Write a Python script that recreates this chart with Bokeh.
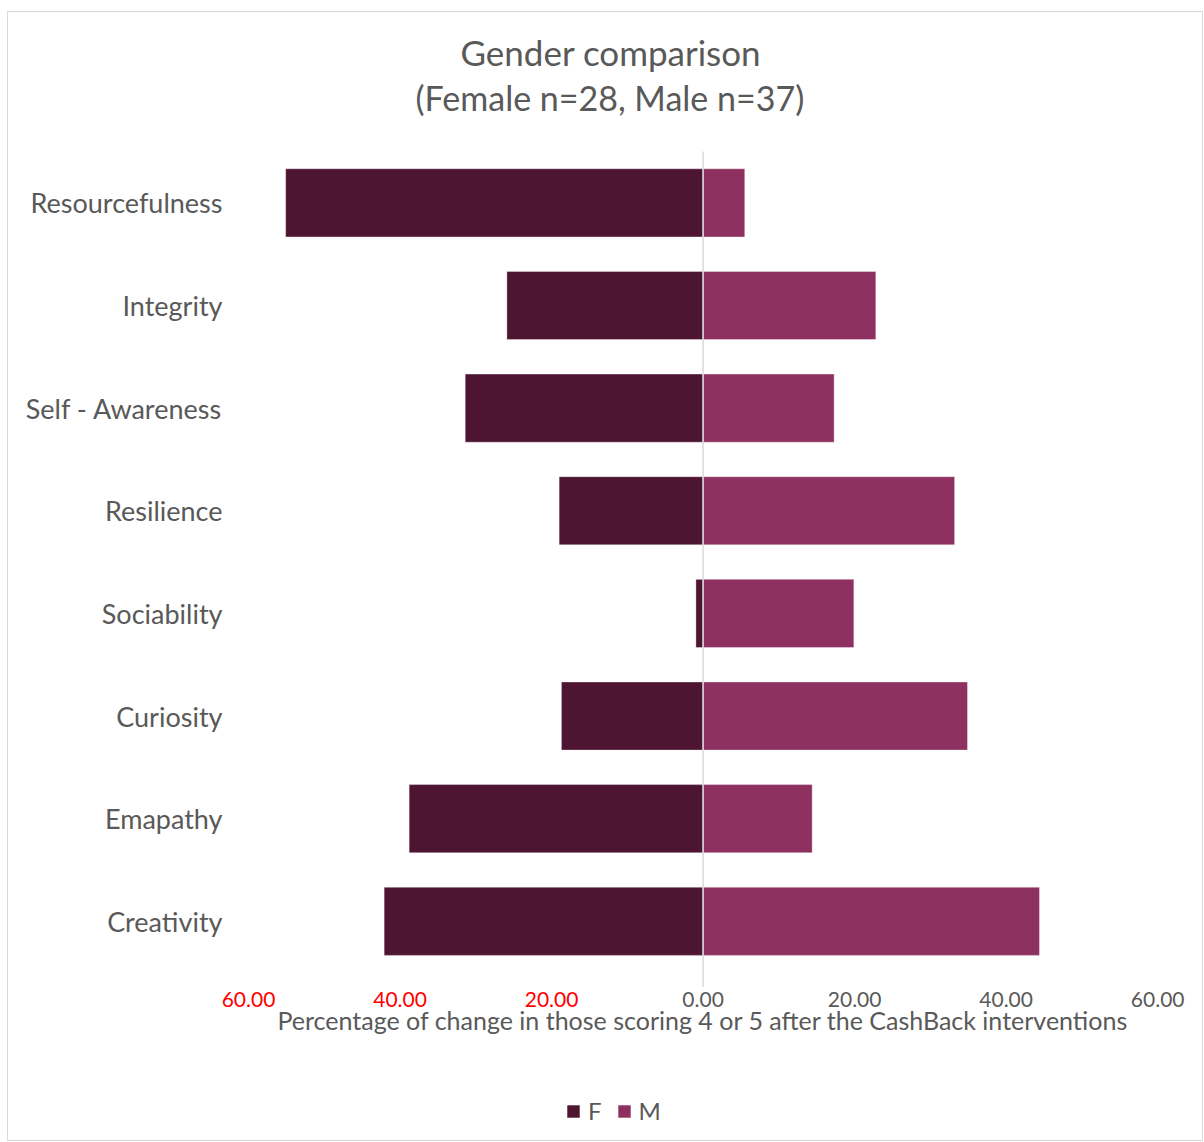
from bokeh.plotting import figure
from bokeh.models import Range1d, ColumnDataSource, Legend, LegendItem, Title, FixedTicker
from bokeh.core.properties import value
from bokeh.embed import file_html
from bokeh.resources import INLINE

categories = ["Resourcefulness", "Integrity", "Self - Awareness", "Resilience",
              "Sociability", "Curiosity", "Emapathy", "Creativity"]
female = [-55.1, -25.9, -31.4, -19.0, -0.95, -18.7, -38.8, -42.1]
male = [5.5, 22.8, 17.3, 33.2, 19.9, 34.9, 14.4, 44.4]
tick_values = [-60, -40, -20, 0, 20, 40, 60]
tick_labels = ["60.00", "40.00", "20.00", "0.00", "20.00", "40.00", "60.00"]
x_title = "Percentage of change in those scoring 4 or 5 after the CashBack interventions"
title_lines = ["Gender comparison", "(Female n=28, Male n=37)"]

FONT = "Lato"
GREY = "#595959"
F_COLOR = "#4e1533"
M_COLOR = "#8e3160"

# category slots: first category on top
ypos = [-i for i in range(len(categories))]
src = ColumnDataSource(dict(y=ypos, f=female, m=male, zero=[0] * len(categories)))

p = figure(width=1196, height=1130, output_backend="svg", toolbar_location=None, title=None,
           x_range=Range1d(-63.7, 64.6), y_range=Range1d(-9.155, 0.822), x_axis_location=None,
           min_border_left=212, min_border_right=12, min_border_top=106, min_border_bottom=0)

rf = p.hbar(y="y", left="f", right="zero", height=0.664, source=src,
            fill_color=F_COLOR, line_color="white", line_alpha=0.35, line_width=1)
rm = p.hbar(y="y", left="zero", right="m", height=0.664, source=src,
            fill_color=M_COLOR, line_color="white", line_alpha=0.35, line_width=1)

# vertical zero line
p.segment(x0=[0], y0=[0.5], x1=[0], y1=[-7.64], line_color="#d9d9d9", line_width=1.5)

p.xgrid.visible = False
p.ygrid.visible = False
p.outline_line_color = None
p.yaxis.ticker = FixedTicker(ticks=ypos)
p.yaxis.major_label_overrides = dict(zip(ypos, categories))
p.yaxis.axis_line_color = None
p.yaxis.major_tick_line_color = None
p.yaxis.minor_tick_line_color = None
p.yaxis.major_tick_out = 0
p.yaxis.major_tick_in = 0
p.yaxis.major_label_text_font = FONT
p.yaxis.major_label_text_font_size = "27px"
p.yaxis.major_label_text_color = GREY
p.yaxis.major_label_standoff = -2

# x tick labels (negative side shown in red, as absolute values)
tick_src = ColumnDataSource(dict(x=tick_values, y=[-7.76] * len(tick_values), t=tick_labels,
                                 c=["#ff0000" if v < 0 else GREY for v in tick_values]))
p.text(x="x", y="y", text="t", text_color="c", source=tick_src, text_align="center",
       text_baseline="middle", text_font=value(FONT), text_font_size="21px")
p.text(x=[0], y=[-7.96], text=[x_title], text_align="center", text_baseline="middle",
       text_font=value(FONT), text_font_size="25px", text_color=GREY)

# two title lines, closest to the frame first
for line, off, size in ((title_lines[1], 195, "34px"), (title_lines[0], 240, "35px")):
    p.add_layout(Title(text=line, align="left", offset=off, text_font=FONT,
                       text_font_size=size, text_font_style="normal", text_color=GREY,
                       standoff=2), "above")

legend = Legend(items=[LegendItem(label="F", renderers=[rf]), LegendItem(label="M", renderers=[rm])],
                orientation="horizontal", location=(345, 17), border_line_color=None,
                label_text_font=FONT, label_text_font_size="24px", label_text_color=GREY,
                glyph_width=16, glyph_height=16, spacing=14, label_standoff=7, label_width=13,
                margin=0, padding=0, background_fill_alpha=0)
p.add_layout(legend, "center")

p.styles = {"border": "1px solid #d9d9d9", "margin": "11px 0 0 7px"}

open("out.html", "w").write(file_html(p, INLINE))
